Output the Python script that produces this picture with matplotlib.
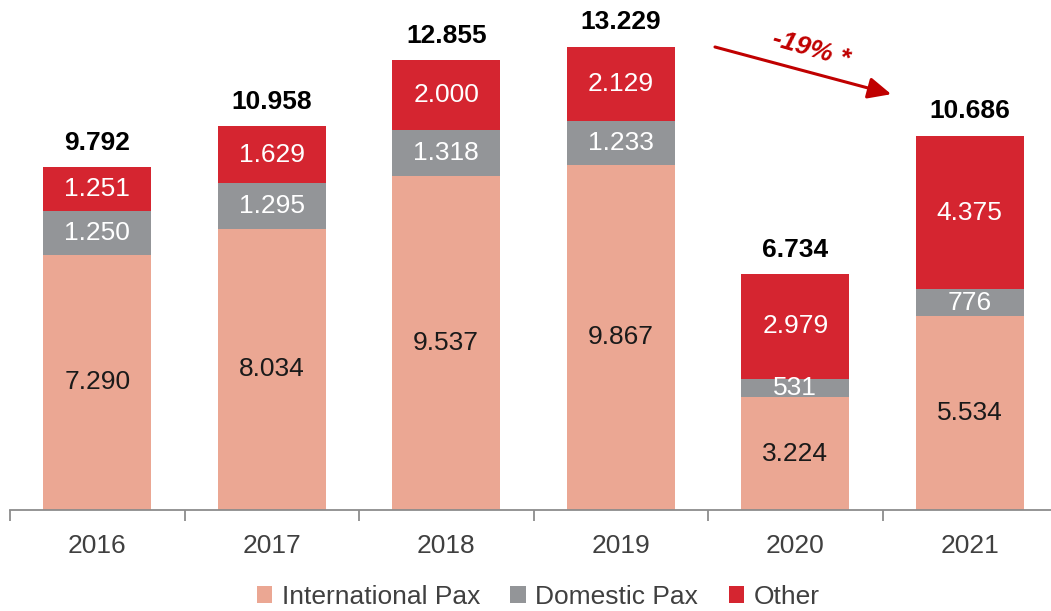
import numpy as np
import matplotlib
matplotlib.use("Agg")
import matplotlib.pyplot as plt

plt.rcParams["font.family"] = ["Liberation Sans", "DejaVu Sans"]

years = ["2016", "2017", "2018", "2019", "2020", "2021"]
intl = [7290, 8034, 9537, 9867, 3224, 5534]
domestic = [1250, 1295, 1318, 1233, 531, 776]
other = [1251, 1629, 2000, 2129, 2979, 4375]
totals = [9792, 10958, 12855, 13229, 6734, 10686]

C = {"intl": "#EBA793", "dom": "#939598", "oth": "#D52530", "arrow": "#C00000",
     "axis": "#8C8C8C", "text": "#404040"}


def fmt(v):
    # thousands separator as dot
    return f"{v:,}".replace(",", ".")


fig = plt.figure(figsize=(10.51, 6.11), dpi=100)
ax = fig.add_axes([10 / 1051, 101 / 611, 1047 / 1051, 490 / 611])

x = np.arange(len(years))
w = 0.62
b1 = ax.bar(x, intl, w, color=C["intl"], label="International Pax")
bot2 = np.array(intl)
b2 = ax.bar(x, domestic, w, bottom=bot2, color=C["dom"], label="Domestic Pax")
bot3 = bot2 + np.array(domestic)
b3 = ax.bar(x, other, w, bottom=bot3, color=C["oth"], label="Other")

fs = 19
for i in range(len(years)):
    ax.text(x[i], intl[i] / 2, fmt(intl[i]), ha="center", va="center",
            fontsize=fs, color="#1A1A1A")
    ax.text(x[i], bot2[i] + domestic[i] / 2, fmt(domestic[i]), ha="center", va="center",
            fontsize=fs, color="white")
    ax.text(x[i], bot3[i] + other[i] / 2, fmt(other[i]), ha="center", va="center",
            fontsize=fs, color="white")
    ax.annotate(fmt(totals[i]), (x[i], totals[i]), xytext=(0, 9), textcoords="offset points",
                ha="center", va="bottom", fontsize=fs, fontweight="bold", color="black")

# change 2019 -> 2021
pct = round((totals[5] / totals[3] - 1) * 100)
ax.annotate("", xy=(4.55, 11880), xytext=(3.54, 13229),
            arrowprops=dict(arrowstyle="-|>,head_length=1.4,head_width=0.65",
                            color=C["arrow"], lw=2.2, shrinkA=0, shrinkB=0))
ax.text(4.09, 13160, f"{pct}% *", ha="center", va="center", rotation=-16,
        fontsize=19, fontweight="bold", fontstyle="italic", color=C["arrow"])

ax.set_xlim(-0.5, 5.5)
ax.set_ylim(0, 14000)
ax.set_yticks([])
for s in ("top", "right", "left"):
    ax.spines[s].set_visible(False)
ax.spines["bottom"].set_color(C["axis"])
ax.spines["bottom"].set_linewidth(1.3)
ax.set_xticks(np.arange(-0.5, 6.0, 1.0))
ax.set_xticklabels([])
ax.set_xticks(x, minor=True)
ax.set_xticklabels(years, minor=True)
ax.tick_params(axis="x", which="major", length=8, width=1.3, color=C["axis"], direction="out")
ax.tick_params(axis="x", which="minor", length=0, pad=17, labelsize=fs, labelcolor=C["text"])

fig.legend(handles=[b1, b2, b3], loc="center", bbox_to_anchor=(0.512, 1 - 597 / 611),
           ncol=3, frameon=False, fontsize=fs, handlelength=0.6, handleheight=0.6,
           handletextpad=0.35, columnspacing=1.15, labelcolor=C["text"])

fig.savefig("out.png", dpi=100)
